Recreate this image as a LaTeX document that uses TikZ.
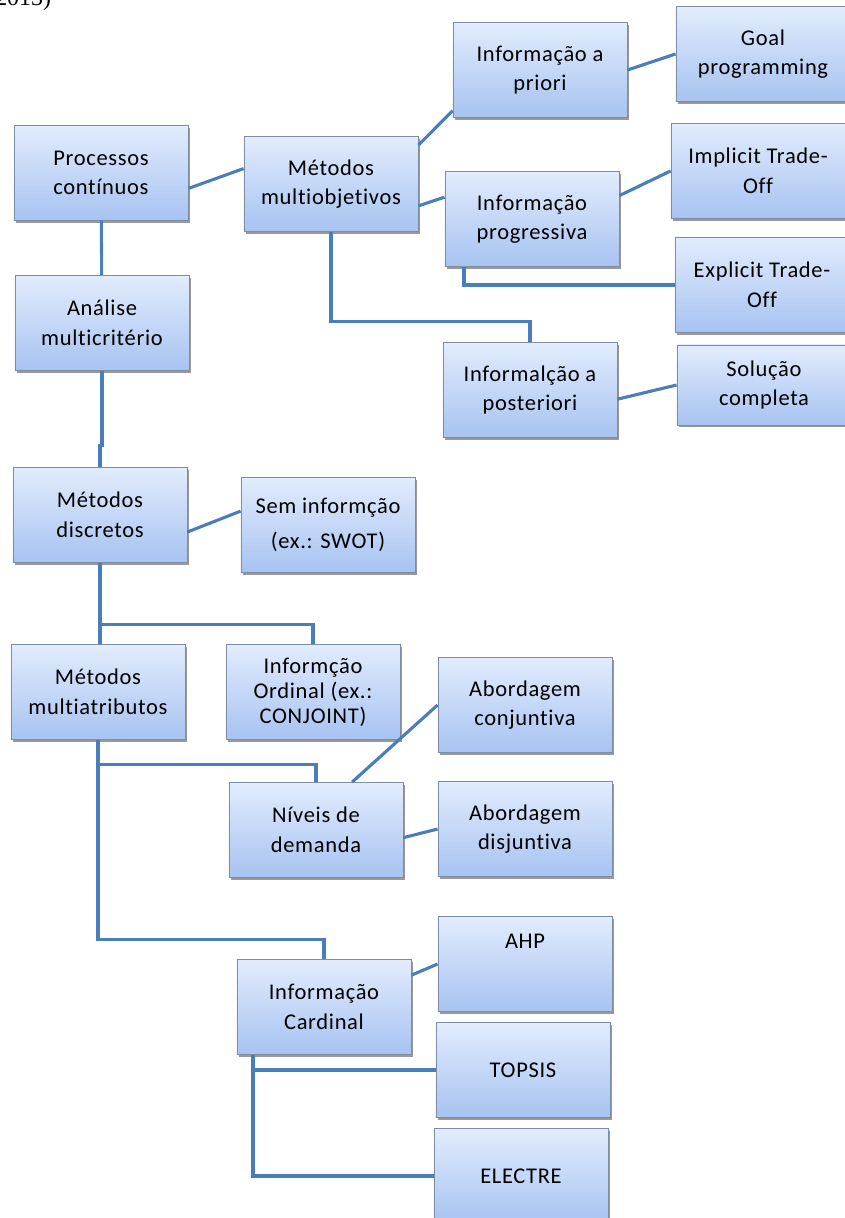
\documentclass[tikz,border=0pt]{standalone}
\usepackage{fontspec}
\setmainfont{Carlito}[Ligatures={NoCommon}]
\newfontfamily\capfont{Liberation Serif}
\usepackage{tikz}
\usetikzlibrary{shadows}
\definecolor{linkblue}{HTML}{4A7EBB}
\definecolor{boxtop}{HTML}{E2ECFD}
\definecolor{boxbot}{HTML}{A7C3F1}
\definecolor{boxedge}{HTML}{7D8DA3}
\newcommand{\boxfont}{\fontsize{16}{21}\selectfont\addfontfeatures{LetterSpace=3}}

\begin{document}
\begin{tikzpicture}[x=0.025cm,y=-0.025cm,
		box/.style={draw=boxedge,line width=0.6pt,top color=boxtop,bottom color=boxbot,
			minimum width=4.35cm,minimum height=2.375cm,inner sep=2pt,align=center,font=\boxfont,
			drop shadow={shadow xshift=1.5pt,shadow yshift=-1.5pt,fill=black,opacity=.4}},
		link/.style={draw=linkblue,line width=2.2pt}]
		\useasboundingbox (0,0) rectangle (845,1218);
		\node[font=\capfont\fontsize{17}{20}\selectfont,anchor=base east](t)at(56,5) {2013)};
		
		\node[box](0)at(101,173) {Processos\\contínuos};
		\node[box](1)at(102,323) {Análise\\multicritério};
		\node[box](2)at(331,184) {Métodos\\multiobjetivos};
		\node[box](3)at(540,70) {Informação a\\priori};
		\node[box](4)at(763,54) {Goal\\programming};
		\node[box](5)at(532,219) {Informação\\progressiva};
		\node[box](6)at(758,171) {Implicit Trade-\\Off};
		\node[box](7)at(762,285) {Explicit Trade-\\Off};
		\node[box](8)at(530,390) {Informalção a\\posteriori};
		\node[box,minimum height=2cm](9)at(764,385) {Solução\\completa};
		\node[box](10)at(100,515) {Métodos\\discretos};
		\node[box](11)at(328,525) {Sem informção\\[4pt](ex.: SWOT)};
		\node[box](12)at(98,692) {Métodos\\multiatributos};
		\node[box,font=\boxfont\linespread{0.85}\selectfont](13)at(313,692) {Informção\\Ordinal (ex.:\\CONJOINT)};
		\node[box](14)at(525,705) {Abordagem\\conjuntiva};
		\node[box](15)at(316,830) {Níveis de\\demanda};
		\node[box](16)at(525,829) {Abordagem\\disjuntiva};
		\node[box](17)at(525,964) {AHP\\[12pt]};
		\node[box](18)at(324,1007) {Informação\\Cardinal};
		\node[box](19)at(523,1070) {TOPSIS};
		\node[box](20)at(521,1176) {ELECTRE};
		
		\draw[link](0) -- (1);
		\draw[link](1.south) -- ++(0,75) -| (10.north);
		\draw[link](0.-10) -- (2.170);
		\draw[link](2.24) -- (3.205);
		\draw[link](2.-14) -- (5.166);
		\draw[link](2.south) -- ++(0,90) -| (8.north);
		\draw[link](3.east) -- (4.west);
		\draw[link](5.15) -- (6.west);
		\draw[link]([xshift=-1.7cm]5.south) |- (7.west);
		\draw[link](8.-6) -- (9.west);
		
		\draw[link](10.-11) -- (11.171);
		\draw[link](10.south) -- (10.south |- 12.north);
		\draw[link](10.south) -- ++(0,62) -| (13.north);
		\draw[link](12.south) -- ++(0,25) -| (15.north);
		\draw[link](12.south) -- ++(0,200) -| (18.north);
		\draw[link](15.53) -- (14.west);
		\draw[link](15.-5) -- (16.west);
		\draw[link](18.20) -- (17.west);
		\draw[link]([xshift=-1.775cm]18.south) |- (19.west);
		\draw[link]([xshift=-1.775cm]18.south) |- (20.west);
	\end{tikzpicture}
\end{document}
